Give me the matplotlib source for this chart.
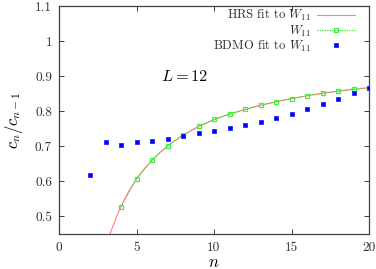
import matplotlib
matplotlib.use("Agg")
import matplotlib.pyplot as plt
from matplotlib.ticker import FixedLocator

# ---- data ----
hrs_n = [3.29, 3.5, 3.75, 4, 4.5, 5, 5.5, 6, 6.5, 7, 7.5, 8, 9, 10, 11, 12,
         13, 14, 15, 16, 17, 18, 19, 20]
hrs_y = [0.45, 0.475, 0.503, 0.528, 0.572, 0.607, 0.636, 0.660, 0.682, 0.701,
         0.717, 0.732, 0.756, 0.776, 0.792, 0.805, 0.817, 0.827, 0.836, 0.844,
         0.851, 0.857, 0.862, 0.867]

w11_n = [4, 5, 6, 7, 8, 9, 10, 11, 12, 13, 14, 15, 16, 17, 18, 19, 20]
w11_y = [0.528, 0.607, 0.660, 0.701, 0.732, 0.757, 0.777, 0.792, 0.805,
         0.817, 0.827, 0.836, 0.844, 0.852, 0.858, 0.864, 0.867]

bdmo_n = [2, 3, 4, 5, 6, 7, 8, 9, 10, 11, 12, 13, 14, 15, 16, 17, 18, 19, 20]
bdmo_y = [0.617, 0.713, 0.705, 0.712, 0.716, 0.722, 0.729, 0.737, 0.744,
          0.752, 0.760, 0.770, 0.781, 0.793, 0.806, 0.820, 0.835, 0.851, 0.867]

xticks = [0, 5, 10, 15, 20]
yticks = [0.5, 0.6, 0.7, 0.8, 0.9, 1.0, 1.1]
ytick_labels = ["0.5", "0.6", "0.7", "0.8", "0.9", "1", "1.1"]

labels = ["HRS fit to $W_{11}$", "$W_{11}$", "BDMO fit to $W_{11}$"]

# ---- style ----
plt.rcParams["mathtext.fontset"] = "cm"
plt.rcParams["font.family"] = ["cmr10", "DejaVu Serif"]
plt.rcParams["axes.formatter.use_mathtext"] = True
plt.rcParams["axes.unicode_minus"] = False

W, H = 376, 269
fig = plt.figure(figsize=(W / 100, H / 100), dpi=100)
ax = fig.add_axes([59 / W, 1 - 234 / H, 310 / W, 228 / H])

fs_tick = 9.6
fs_leg = 9.1
ax.plot(hrs_n, hrs_y, color="#ff8080", lw=0.8, label=labels[0], zorder=2)
ax.plot(w11_n, w11_y, color="#33dd33", lw=0.8, ls=(0, (1, 1.2)),
        marker="s", ms=3.4, mfc="none", mec="#44ee44", mew=0.9,
        label=labels[1], zorder=3)
ax.plot(bdmo_n, bdmo_y, ls="none", marker="s", ms=3.1, color="#0000ff",
        mec="#2222ff", mew=0.6, label=labels[2], zorder=4)

ax.set_xlim(0, 20)
ax.set_ylim(0.45, 1.1)
ax.xaxis.set_major_locator(FixedLocator(xticks))
ax.yaxis.set_major_locator(FixedLocator(yticks))
ax.set_yticklabels(ytick_labels)
ax.set_xticklabels([str(t) for t in xticks])
ax.tick_params(direction="in", length=3.5, width=0.7, top=True, right=True,
               labelsize=fs_tick, colors="#404040", labelcolor="#303030")
ax.tick_params(axis="y", pad=5)
ax.tick_params(axis="x", pad=6)
for s in ax.spines.values():
    s.set_color("#404040")
    s.set_linewidth(0.9)

ax.set_xlabel("$n$", fontsize=12, labelpad=0)
ax.set_ylabel("$c_n/c_{n-1}$", fontsize=12, labelpad=7)

ax.text(6.6, 0.899, "$L = 12$", fontsize=11.8, va="center", ha="left")

leg = ax.legend(loc="upper right", bbox_to_anchor=(0.955, 0.99),
                frameon=False, markerfirst=False, fontsize=fs_leg,
                handlelength=3.0, handletextpad=0.5, labelspacing=0.0,
                borderpad=0, borderaxespad=0)
for t in leg.get_texts():
    t.set_color("#303030")

fig.savefig("out.png", dpi=100)
